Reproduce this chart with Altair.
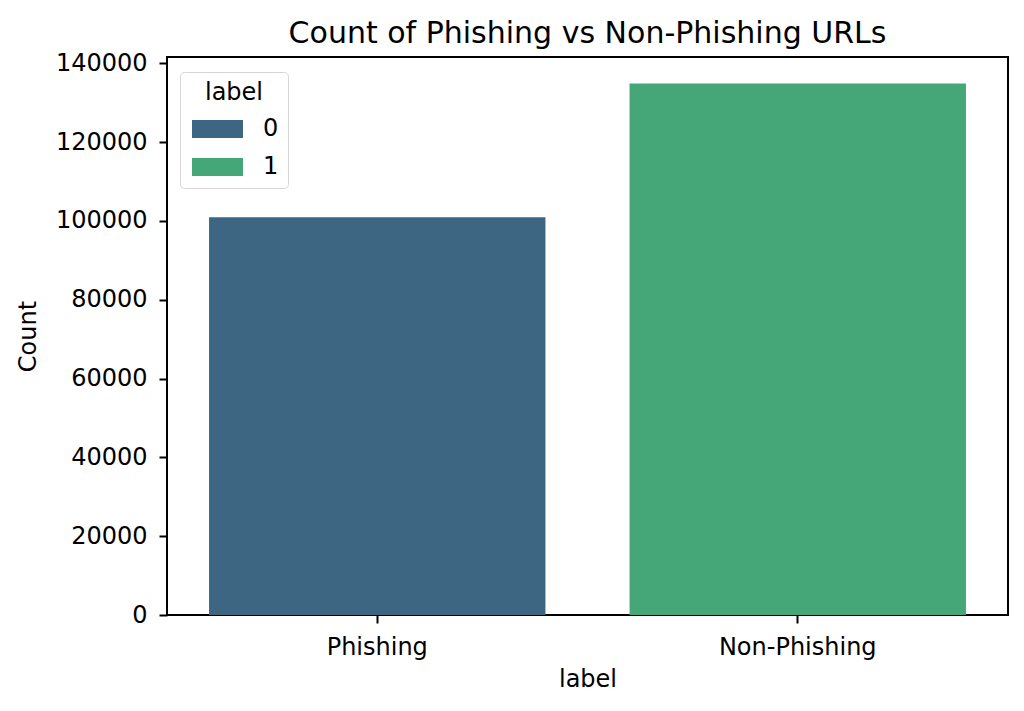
import altair as alt
import pandas as pd

categories = ["Phishing", "Non-Phishing"]
counts = [100945, 134850]
labels = ["0", "1"]
colors = ["#3d6682", "#45a778"]
y_ticks = [0, 20000, 40000, 60000, 80000, 100000, 120000, 140000]

df = pd.DataFrame({"category": categories, "count": counts, "label": labels})

FONT = "DejaVu Sans"

bars = alt.Chart(df).mark_bar().encode(
    x=alt.X(
        "category:N",
        sort=categories,
        title="label",
        scale=alt.Scale(paddingInner=0.2, paddingOuter=0.1),
        axis=alt.Axis(labelAngle=0, domain=False, tickColor="black", tickWidth=2,
                      tickSize=8, labelPadding=12, labelFontSize=24, labelColor="black",
                      titleFontSize=24, titleFontWeight="normal", titleColor="black",
                      titlePadding=8, labelFont=FONT, titleFont=FONT, grid=False),
    ),
    y=alt.Y(
        "count:Q",
        title="Count",
        scale=alt.Scale(domain=[0, 141592.5], nice=False),
        axis=alt.Axis(values=y_ticks, format="d", domain=False, tickColor="black",
                      tickWidth=2, tickSize=8, labelPadding=12, labelFontSize=24,
                      labelColor="black", titleFontSize=24, titleFontWeight="normal",
                      titleColor="black", titlePadding=15, labelFont=FONT,
                      titleFont=FONT, grid=False),
    ),
    color=alt.Color(
        "label:N",
        title="label",
        scale=alt.Scale(domain=labels, range=colors),
        legend=alt.Legend(
            orient="none", legendX=13, legendY=15,
            symbolType="M-1,-1L4.667,-1L4.667,1L-1,1Z",
            symbolSize=324, symbolStrokeWidth=0, symbolOpacity=1,
            labelOffset=50, labelFontSize=24, labelFont=FONT, labelColor="black",
            titleFontSize=24, titleFont=FONT, titleFontWeight="normal",
            titleColor="black", titleAnchor="middle", titlePadding=12,
            rowPadding=14, padding=9, strokeColor="#d6d6d6", cornerRadius=4,
            fillColor="white",
        ),
    ),
)

chart = bars.properties(
    width=841,
    height=558,
    background="white",
    title=alt.TitleParams("Count of Phishing vs Non-Phishing URLs", fontSize=30,
                          font=FONT, fontWeight="normal", color="black", offset=2),
    autosize=alt.AutoSizeParams(type="none"),
    padding={"left": 167, "top": 57, "right": 16, "bottom": 96},
).configure_view(stroke="black", strokeWidth=2)

chart.save("out.html", embed_options={"renderer": "svg", "actions": False})
